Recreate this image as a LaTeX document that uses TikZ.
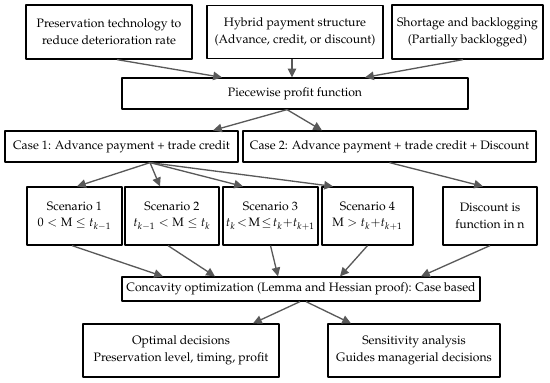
\documentclass[tikz,border=0pt]{standalone}
\usepackage[T1]{fontenc}
\usepackage{amsmath,amssymb}
\usepackage{mathpazo}
\usepackage{xcolor}
\usetikzlibrary{arrows.meta,calc}

\begin{document}
\begin{tikzpicture}[line join=round,
  box/.style={draw,line width=0.7pt,align=center,inner sep=1pt,font=\fontsize{6.95}{9.6}\selectfont},
  link/.style={line width=0.75pt,draw=black!65,-{Triangle[length=5pt,width=4.8pt]}}]
  \useasboundingbox (0,0) rectangle (11,7.64);
  \coordinate (p) at (2.180,7.000);
  \coordinate (h) at (5.900,7.000);
  \coordinate (s) at (9.350,7.000);
  \coordinate (f) at (5.900,5.770);
  \coordinate (c1) at (2.430,4.710);
  \coordinate (c2) at (7.790,4.710);
  \coordinate (u1) at (1.490,3.320);
  \coordinate (u2) at (3.440,3.320);
  \coordinate (u3) at (5.410,3.320);
  \coordinate (u4) at (7.350,3.320);
  \coordinate (u5) at (9.800,3.320);
  \coordinate (k) at (6.020,1.860);
  \coordinate (o1) at (3.620,0.630);
  \coordinate (o2) at (8.280,0.630);
  % boxes
  \node[box,minimum width=3.32cm,minimum height=1.08cm] (P) at (p) {Preservation technology to\\reduce deterioration rate};
  \node[box,minimum width=3.52cm,minimum height=1.06cm] (H) at (h) {Hybrid payment structure\\(Advance, credit, or discount)};
  \node[box,minimum width=3.02cm,minimum height=1.08cm] (S) at (s) {Shortage and backlogging\\(Partially backlogged)};
  \node[box,minimum width=6.92cm,minimum height=0.62cm] (F) at (f) {Piecewise profit function};
  \node[box,minimum width=4.66cm,minimum height=0.62cm] (C1) at (c1) {Case 1: Advance payment + trade credit};
  \node[box,minimum width=5.86cm,minimum height=0.62cm] (C2) at (c2) {Case 2: Advance payment + trade credit + Discount};
  \node[box,minimum width=1.90cm,minimum height=1.16cm] (U1) at (u1) {Scenario 1\\$0<\mathrm{M}\le t_{k-1}$};
  \node[box,minimum width=1.88cm,minimum height=1.16cm] (U2) at (u2) {Scenario 2\\$t_{k-1}<\mathrm{M}\le t_k$};
  \node[box,minimum width=1.90cm,minimum height=1.16cm] (U3) at (u3) {Scenario 3\\$t_k\!<\!\mathrm{M}\!\le\! t_k{+}t_{k+1}$};
  \node[box,minimum width=1.82cm,minimum height=1.16cm] (U4) at (u4) {Scenario 4\\$\mathrm{M}>t_k{+}t_{k+1}$};
  \node[box,minimum width=1.88cm,minimum height=1.16cm] (U5) at (u5) {Discount is\\function in n};
  \node[box,minimum width=7.16cm,minimum height=0.48cm] (K) at (k) {Concavity optimization (Lemma and Hessian proof): Case based};
  \node[box,minimum width=3.92cm,minimum height=1.06cm] (O1) at (o1) {Optimal decisions\\Preservation level, timing, profit};
  \node[box,minimum width=3.44cm,minimum height=1.06cm] (O2) at (o2) {Sensitivity analysis\\Guides managerial decisions};
  % connectors
  \draw[link] ([xshift=0.16cm]P.south) -- ([xshift=-1.46cm]F.north);
  \draw[link] ([xshift=-0.06cm]H.south) -- ([xshift=-0.06cm]F.north);
  \draw[link] ([xshift=-0.09cm]S.south) -- ([xshift=1.40cm]F.north);
  \draw[link] ([xshift=-0.16cm]F.south) -- ([xshift=1.83cm]C1.north);
  \draw[link] ([xshift=-0.16cm]F.south) -- ([xshift=-1.35cm]C2.north);
  \draw[link] ([xshift=0.57cm]C1.south) -- ([xshift=0.05cm]U1.north);
  \draw[link] ([xshift=0.57cm]C1.south) -- ([xshift=-0.24cm]U2.north);
  \draw[link] ([xshift=0.57cm]C1.south) -- ([xshift=-0.55cm]U3.north);
  \draw[link] ([xshift=0.57cm]C1.south) -- ([xshift=-0.69cm]U4.north);
  \draw[link] ([xshift=0.00cm]C2.south) -- ([xshift=-0.14cm]U5.north);
  \draw[link] ([xshift=-0.05cm]U1.south) -- ([xshift=-2.76cm]K.north);
  \draw[link] ([xshift=-0.08cm]U2.south) -- ([xshift=-1.72cm]K.north);
  \draw[link] (U3.south) -- ([xshift=-0.46cm]K.north);
  \draw[link] (U4.south) -- ([xshift=0.78cm]K.north);
  \draw[link] (U5.south) -- ([xshift=2.40cm]K.north);
  \draw[link] ([xshift=-0.02cm]K.south) -- ([xshift=1.44cm]O1.north);
  \draw[link] ([xshift=0.10cm]K.south) -- ([xshift=-1.26cm]O2.north);
\end{tikzpicture}
\end{document}
